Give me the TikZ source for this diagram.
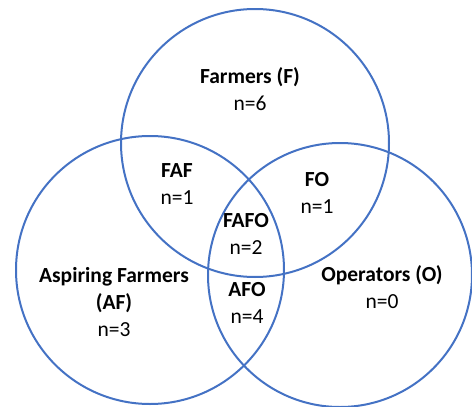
\documentclass[tikz,border=0pt]{standalone}
\usepackage{fontspec}
\setmainfont{Carlito}
\definecolor{vennblue}{HTML}{4472C4}

\begin{document}
\begin{tikzpicture}[%
        x = 1pt, y = -1pt,
        set/.style = {draw=vennblue, line width=2pt},
        lbl/.style = {align=center, font=\fontsize{21.5}{27}\selectfont}
    ]
      \useasboundingbox (0,0) rectangle (472,407);
      \draw[set] (255,143) circle [radius=134];
      \draw[set] (150,270) circle [radius=134];
      \draw[set] (340,275) circle [radius=132];
      \node[lbl] (f) at (250,89) {\textbf{Farmers (F)}\\n=6};
      \node[lbl] (faf) at (177,184) {\textbf{FAF}\\n=1};
      \node[lbl] (fo) at (317,193) {\textbf{FO}\\n=1};
      \node[lbl] (fafo) at (246,234) {\textbf{FAFO}\\n=2};
      \node[lbl] (af) at (114,302) {\textbf{Aspiring Farmers}\\\textbf{(AF)}\\n=3};
      \node[lbl] (afo) at (247,303) {\textbf{AFO}\\n=4};
      \node[lbl] (o) at (382,287) {\textbf{Operators (O)}\\n=0};
    \end{tikzpicture}
\end{document}
